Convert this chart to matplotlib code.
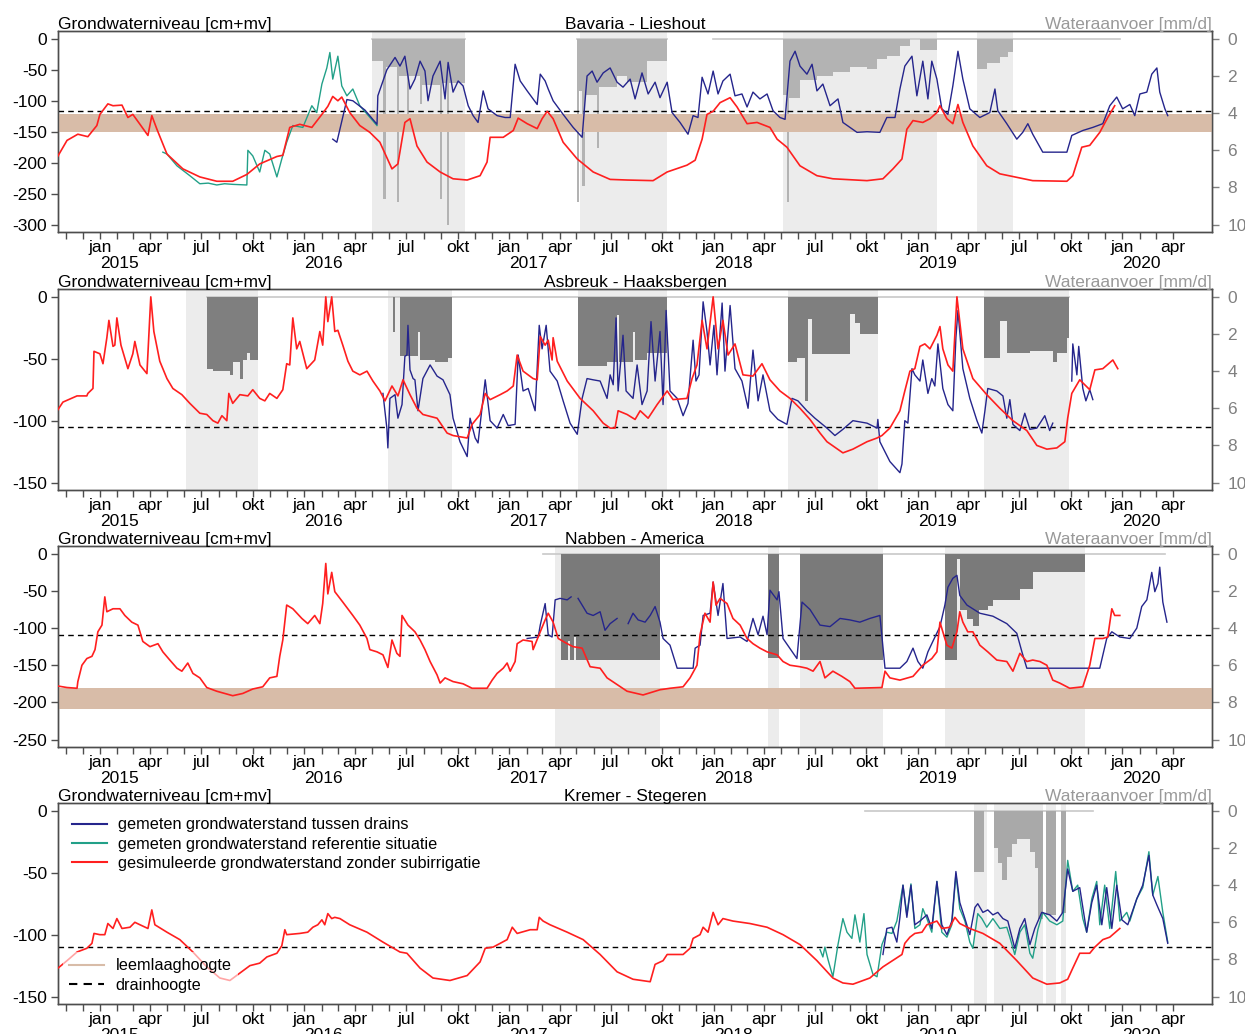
import numpy as np
import pandas as pd
import matplotlib
matplotlib.use('Agg')
import matplotlib.pyplot as plt
import matplotlib.dates as mdates
from matplotlib.lines import Line2D

plt.rcParams['font.family'] = ['Liberation Sans', 'DejaVu Sans']
plt.rcParams['font.size'] = 12.5

###########################################################
# data: time in decimal years, groundwater in cm+mv, supply in mm/d

titles = ['Bavaria - Lieshout', 'Asbreuk - Haaksbergen', 'Nabben - America', 'Kremer - Stegeren']
yticks_left = [[0, -50, -100, -150, -200, -250, -300],
               [0, -50, -100, -150],
               [0, -50, -100, -150, -200, -250],
               [0, -50, -100, -150]]
drain_level = [-116, -105, -109, -110]
loam_band = [(-122, -150), None, (-180, -209), None]

# ---- Bavaria - Lieshout
bav_red = [(2014.795, -189), (2014.839, -164), (2014.892, -154), (2014.941, -158), (2014.985, -140),
           (2015.000, -122), (2015.039, -105), (2015.064, -108), (2015.108, -107), (2015.137, -127),
           (2015.161, -122), (2015.196, -138), (2015.235, -156), (2015.254, -124), (2015.279, -146),
           (2015.328, -186), (2015.406, -210), (2015.489, -223), (2015.572, -230), (2015.650, -230),
           (2015.719, -219), (2015.782, -202), (2015.866, -190), (2015.895, -188), (2015.929, -143),
           (2015.978, -138), (2016.037, -143), (2016.086, -122), (2016.115, -109), (2016.139, -93),
           (2016.164, -100), (2016.183, -94), (2016.222, -119), (2016.271, -140), (2016.320, -151),
           (2016.369, -167), (2016.428, -210), (2016.457, -202), (2016.491, -135), (2016.516, -129),
           (2016.550, -173), (2016.599, -199), (2016.663, -215), (2016.726, -226), (2016.795, -228),
           (2016.858, -221), (2016.892, -199), (2016.907, -159), (2016.971, -159), (2017.020, -148),
           (2017.044, -128), (2017.088, -137), (2017.137, -145), (2017.161, -129), (2017.186, -117),
           (2017.215, -129), (2017.264, -167), (2017.333, -194), (2017.411, -215), (2017.494, -227),
           (2017.577, -228), (2017.704, -229), (2017.773, -215), (2017.870, -204), (2017.910, -196),
           (2017.944, -162), (2017.968, -122), (2017.998, -117), (2018.032, -103), (2018.081, -95),
           (2018.115, -110), (2018.164, -137), (2018.213, -135), (2018.276, -143), (2018.311, -162),
           (2018.359, -175), (2018.423, -205), (2018.506, -221), (2018.584, -226), (2018.751, -229),
           (2018.829, -226), (2018.878, -210), (2018.922, -194), (2018.946, -146), (2018.976, -132),
           (2019.024, -135), (2019.059, -129), (2019.093, -119), (2019.108, -108), (2019.142, -129),
           (2019.171, -137), (2019.196, -106), (2019.220, -135), (2019.269, -173), (2019.337, -205),
           (2019.401, -218), (2019.562, -229), (2019.729, -230), (2019.758, -221), (2019.802, -175),
           (2019.841, -172), (2019.890, -151), (2019.929, -127), (2019.963, -108)]
bav_navy = [(2016.139, -162), (2016.159, -167), (2016.208, -98), (2016.237, -100), (2016.296, -115),
            (2016.355, -138), (2016.359, -92), (2016.403, -50), (2016.443, -30), (2016.467, -44),
            (2016.491, -28), (2016.516, -81), (2016.540, -65), (2016.565, -36), (2016.589, -52),
            (2016.604, -100), (2016.628, -60), (2016.663, -36), (2016.687, -97), (2016.702, -38),
            (2016.726, -86), (2016.751, -68), (2016.775, -76), (2016.800, -108), (2016.824, -124),
            (2016.848, -135), (2016.873, -84), (2016.897, -113), (2016.941, -124), (2016.980, -127),
            (2017.005, -127), (2017.029, -41), (2017.054, -68), (2017.088, -84), (2017.137, -106),
            (2017.152, -57), (2017.176, -68), (2017.191, -81), (2017.215, -100), (2017.264, -122),
            (2017.313, -143), (2017.357, -159), (2017.381, -60), (2017.406, -52), (2017.430, -70),
            (2017.460, -55), (2017.494, -47), (2017.528, -70), (2017.557, -78), (2017.592, -65),
            (2017.616, -97), (2017.650, -55), (2017.680, -89), (2017.714, -70), (2017.738, -95),
            (2017.773, -70), (2017.797, -119), (2017.836, -135), (2017.875, -154), (2017.900, -124),
            (2017.924, -127), (2017.944, -62), (2017.973, -89), (2017.998, -52), (2018.022, -89),
            (2018.046, -68), (2018.081, -57), (2018.105, -92), (2018.139, -89), (2018.164, -110),
            (2018.193, -86), (2018.227, -97), (2018.262, -89), (2018.291, -116), (2018.325, -127),
            (2018.350, -130), (2018.374, -36), (2018.399, -20), (2018.423, -44), (2018.457, -57),
            (2018.482, -41), (2018.506, -84), (2018.535, -73), (2018.570, -108), (2018.609, -97),
            (2018.633, -135), (2018.702, -151), (2018.751, -150), (2018.814, -151), (2018.848, -127),
            (2018.888, -127), (2018.912, -81), (2018.936, -44), (2018.971, -28), (2018.995, -92),
            (2019.024, -36), (2019.049, -97), (2019.068, -36), (2019.093, -65), (2019.117, -113),
            (2019.147, -122), (2019.171, -76), (2019.196, -20), (2019.220, -65), (2019.254, -113),
            (2019.303, -127), (2019.352, -119), (2019.377, -81), (2019.391, -116), (2019.435, -137),
            (2019.484, -162), (2019.513, -151), (2019.538, -137), (2019.562, -154), (2019.611, -183),
            (2019.729, -183), (2019.753, -156), (2019.807, -148), (2019.856, -143), (2019.905, -137),
            (2019.939, -108), (2019.973, -94), (2020.002, -113), (2020.037, -106), (2020.061, -124),
            (2020.086, -89), (2020.120, -86), (2020.144, -57), (2020.169, -47), (2020.183, -86),
            (2020.208, -113), (2020.222, -124)]
bav_teal = [(2015.308, -183), (2015.328, -186), (2015.377, -205), (2015.440, -221), (2015.489, -234),
            (2015.530, -233), (2015.572, -236), (2015.610, -234), (2015.650, -235), (2015.719, -236),
            (2015.724, -180), (2015.748, -189), (2015.782, -215), (2015.807, -180), (2015.831, -186),
            (2015.866, -223), (2015.890, -194), (2015.914, -167), (2015.944, -140), (2015.993, -143),
            (2016.037, -108), (2016.061, -119), (2016.086, -73), (2016.110, -47), (2016.125, -22),
            (2016.139, -65), (2016.164, -28), (2016.183, -76), (2016.208, -92), (2016.237, -81),
            (2016.271, -108), (2016.355, -140)]
bav_irrig = [(2016.330, 2016.785), (2017.347, 2017.773), (2018.340, 2019.093), (2019.289, 2019.465)]
bav_supply = [(2016.330, 1.2), (2016.384, 8.6), (2016.398, 1.5), (2016.452, 8.8), (2016.462, 2.0),
              (2016.501, 4.5), (2016.511, 2.0), (2016.565, 3.5), (2016.575, 2.5), (2016.663, 8.6),
              (2016.672, 2.4), (2016.697, 10.0), (2016.706, 2.4), (2016.785, np.nan),
              (2017.333, 8.8), (2017.343, 2.8), (2017.357, 7.9), (2017.371, 3.0), (2017.430, 5.9),
              (2017.440, 2.6), (2017.528, 2.0), (2017.577, 2.3), (2017.675, 1.2), (2017.773, np.nan),
              (2017.998, 0.0), (2018.340, 3.0), (2018.359, 8.8), (2018.369, 3.2), (2018.423, 2.2),
              (2018.506, 2.0), (2018.584, 1.8), (2018.667, 1.5), (2018.751, 1.6), (2018.800, 1.1),
              (2018.848, 0.9), (2018.912, 0.4), (2018.961, 0.0), (2019.010, 0.6), (2019.093, 0.0),
              (2019.289, 1.6), (2019.337, 1.3), (2019.401, 1.0), (2019.440, 0.7), (2019.465, 0.0),
              (2019.988, np.nan)]

# ---- Asbreuk - Haaksbergen
asb_red = [(2014.795, -91), (2014.819, -85), (2014.888, -80), (2014.936, -80), (2014.941, -78),
           (2014.966, -74), (2014.971, -44), (2015.000, -46), (2015.015, -54), (2015.034, -33),
           (2015.044, -19), (2015.064, -40), (2015.073, -39), (2015.083, -17), (2015.103, -39),
           (2015.137, -58), (2015.161, -46), (2015.171, -36), (2015.196, -55), (2015.230, -62),
           (2015.249, 0), (2015.264, -28), (2015.293, -52), (2015.328, -66), (2015.357, -74),
           (2015.401, -79), (2015.440, -86), (2015.489, -94), (2015.523, -95), (2015.553, -100),
           (2015.577, -102), (2015.597, -96), (2015.621, -100), (2015.631, -78), (2015.650, -86),
           (2015.685, -79), (2015.724, -80), (2015.748, -75), (2015.782, -82), (2015.807, -84),
           (2015.831, -78), (2015.866, -82), (2015.895, -75), (2015.914, -54), (2015.929, -55),
           (2015.944, -17), (2015.963, -42), (2015.978, -36), (2016.012, -58), (2016.051, -51),
           (2016.076, -28), (2016.090, -39), (2016.105, 0), (2016.115, -20), (2016.134, 0),
           (2016.149, -28), (2016.164, -27), (2016.188, -39), (2016.213, -52), (2016.237, -60),
           (2016.271, -63), (2016.306, -60), (2016.335, -68), (2016.369, -76), (2016.394, -84),
           (2016.428, -72), (2016.457, -80), (2016.482, -67), (2016.516, -79), (2016.550, -90),
           (2016.579, -95), (2016.648, -98), (2016.697, -110), (2016.726, -112), (2016.795, -114),
           (2016.819, -103), (2016.858, -95), (2016.883, -78), (2016.907, -83), (2016.956, -79),
           (2016.990, -76), (2017.020, -72), (2017.039, -47), (2017.068, -60), (2017.117, -66),
           (2017.137, -67), (2017.152, -32), (2017.176, -39), (2017.191, -35), (2017.210, -51),
           (2017.215, -33), (2017.235, -52), (2017.284, -68), (2017.347, -82), (2017.411, -92),
           (2017.460, -102), (2017.494, -106), (2017.518, -106), (2017.533, -92), (2017.577, -95),
           (2017.616, -99), (2017.641, -92), (2017.680, -98), (2017.724, -87), (2017.773, -76),
           (2017.802, -83), (2017.870, -82), (2017.895, -66), (2017.919, -55), (2017.944, -19),
           (2017.968, -42), (2017.998, 0), (2018.022, -42), (2018.046, -19), (2018.071, -47),
           (2018.105, -38), (2018.144, -63), (2018.193, -64), (2018.237, -54), (2018.276, -67),
           (2018.325, -76), (2018.374, -82), (2018.423, -90), (2018.472, -99), (2018.521, -110),
           (2018.555, -117), (2018.633, -126), (2018.682, -123), (2018.751, -117), (2018.800, -114),
           (2018.824, -112), (2018.863, -106), (2018.912, -92), (2018.936, -76), (2018.961, -60),
           (2018.985, -58), (2019.010, -40), (2019.034, -38), (2019.059, -42), (2019.093, -31),
           (2019.108, -24), (2019.122, -42), (2019.147, -55), (2019.171, -60), (2019.191, 0),
           (2019.220, -42), (2019.269, -66), (2019.337, -79), (2019.401, -90), (2019.465, -100),
           (2019.533, -108), (2019.582, -120), (2019.631, -123), (2019.680, -122), (2019.719, -117),
           (2019.733, -98), (2019.753, -78), (2019.792, -67), (2019.841, -75), (2019.866, -59),
           (2019.905, -58), (2019.954, -51), (2019.978, -58)]
asb_navy = [(2016.384, -78), (2016.403, -106), (2016.408, -122), (2016.418, -82), (2016.443, -79),
            (2016.457, -98), (2016.477, -87), (2016.491, -48), (2016.501, -47), (2016.506, -23),
            (2016.516, -59), (2016.531, -66), (2016.540, -67), (2016.555, -92), (2016.579, -66),
            (2016.614, -55), (2016.648, -64), (2016.677, -67), (2016.711, -79), (2016.726, -98),
            (2016.760, -117), (2016.795, -129), (2016.809, -98), (2016.834, -114), (2016.848, -118),
            (2016.883, -67), (2016.907, -100), (2016.941, -106), (2016.971, -95), (2016.995, -104),
            (2017.029, -103), (2017.044, -47), (2017.068, -76), (2017.093, -74), (2017.127, -92),
            (2017.147, -23), (2017.161, -42), (2017.181, -23), (2017.200, -60), (2017.235, -68),
            (2017.264, -84), (2017.298, -102), (2017.333, -111), (2017.357, -82), (2017.381, -66),
            (2017.411, -67), (2017.445, -68), (2017.479, -82), (2017.494, -63), (2017.509, -71),
            (2017.523, -17), (2017.533, -76), (2017.557, -31), (2017.572, -76), (2017.606, -82),
            (2017.626, -55), (2017.650, -87), (2017.675, -76), (2017.694, -20), (2017.714, -68),
            (2017.738, -28), (2017.753, -87), (2017.768, -11), (2017.787, -76), (2017.822, -82),
            (2017.851, -96), (2017.875, -86), (2017.900, -35), (2017.914, -68), (2017.929, -63),
            (2017.949, -4), (2017.968, -28), (2017.983, -55), (2018.002, -23), (2018.017, -63),
            (2018.042, -5), (2018.056, -60), (2018.081, -7), (2018.105, -58), (2018.139, -68),
            (2018.169, -90), (2018.193, -43), (2018.218, -84), (2018.242, -63), (2018.276, -92),
            (2018.315, -99), (2018.359, -103), (2018.384, -82), (2018.413, -84), (2018.457, -92),
            (2018.496, -98), (2018.555, -106), (2018.594, -112), (2018.633, -107), (2018.682, -100),
            (2018.751, -102), (2018.800, -106), (2018.804, -99), (2018.814, -117), (2018.863, -133),
            (2018.912, -142), (2018.922, -135), (2018.936, -100), (2018.951, -102), (2018.971, -58),
            (2018.985, -63), (2019.010, -68), (2019.024, -51), (2019.049, -78), (2019.068, -66),
            (2019.083, -72), (2019.098, -38), (2019.122, -74), (2019.147, -87), (2019.171, -92),
            (2019.186, -33), (2019.196, -11), (2019.220, -58), (2019.254, -82), (2019.289, -100),
            (2019.313, -110), (2019.328, -92), (2019.342, -74), (2019.386, -76), (2019.416, -80),
            (2019.435, -98), (2019.450, -83), (2019.465, -103), (2019.499, -108), (2019.523, -94),
            (2019.548, -107), (2019.582, -106), (2019.621, -96), (2019.645, -108), (2019.660, -102),
            (2019.700, np.nan),
            (2019.753, -68), (2019.758, -38), (2019.778, -63), (2019.787, -40), (2019.807, -74),
            (2019.822, -84), (2019.841, -75), (2019.856, -83)]
asb_teal = []
asb_irrig = [(2015.420, 2015.773), (2016.408, 2016.721), (2017.337, 2017.773), (2018.364, 2018.804),
             (2019.323, 2019.738)]
asb_supply = [(2015.523, 3.9), (2015.553, 4.0), (2015.636, 4.2), (2015.650, 3.5), (2015.685, 4.4),
              (2015.699, 3.4), (2015.719, 3.0), (2015.734, 3.4), (2015.773, 0.0),
              (2016.433, 1.9), (2016.443, 0.0), (2016.467, 3.2), (2016.555, 1.9), (2016.565, 3.4),
              (2016.640, 3.5), (2016.700, 3.3), (2016.721, 0.0),
              (2017.337, 3.7), (2017.479, 3.5), (2017.528, 1.0), (2017.537, 3.5), (2017.606, 1.9),
              (2017.616, 3.4), (2017.675, 3.0), (2017.773, 0.0),
              (2018.364, 3.5), (2018.408, 3.3), (2018.447, 5.6), (2018.462, 1.2), (2018.482, 3.1),
              (2018.667, 0.9), (2018.692, 1.4), (2018.716, 2.0), (2018.804, 0.0),
              (2019.323, 3.3), (2019.401, 1.3), (2019.435, 3.0), (2019.548, 2.9), (2019.660, 3.5),
              (2019.680, 3.0), (2019.729, 2.2), (2019.738, np.nan)]

# ---- Nabben - America
nab_red = [(2014.795, -178), (2014.839, -180), (2014.888, -181), (2014.892, -172), (2014.912, -150),
           (2014.936, -141), (2014.961, -138), (2014.976, -129), (2014.990, -105), (2015.010, -96),
           (2015.024, -58), (2015.034, -78), (2015.064, -74), (2015.098, -74), (2015.122, -83),
           (2015.156, -92), (2015.186, -96), (2015.210, -118), (2015.245, -125), (2015.284, -121),
           (2015.308, -132), (2015.342, -143), (2015.377, -154), (2015.401, -158), (2015.430, -147),
           (2015.455, -161), (2015.489, -167), (2015.523, -180), (2015.572, -185), (2015.650, -191),
           (2015.699, -188), (2015.748, -182), (2015.797, -179), (2015.831, -167), (2015.866, -165),
           (2015.880, -138), (2015.895, -116), (2015.914, -69), (2015.944, -74), (2015.988, -87),
           (2016.017, -94), (2016.051, -83), (2016.076, -94), (2016.090, -67), (2016.105, -13),
           (2016.115, -54), (2016.134, -25), (2016.149, -51), (2016.188, -65), (2016.237, -83),
           (2016.271, -96), (2016.306, -114), (2016.320, -129), (2016.355, -132), (2016.384, -136),
           (2016.408, -153), (2016.428, -116), (2016.452, -134), (2016.467, -138), (2016.477, -83),
           (2016.506, -96), (2016.540, -105), (2016.565, -116), (2016.589, -129), (2016.614, -145),
           (2016.648, -163), (2016.663, -174), (2016.687, -167), (2016.726, -172), (2016.775, -175),
           (2016.819, -181), (2016.892, -181), (2016.917, -170), (2016.941, -161), (2016.971, -154),
           (2016.990, -147), (2017.005, -158), (2017.029, -145), (2017.039, -121), (2017.068, -116),
           (2017.112, -118), (2017.117, -129), (2017.152, -105), (2017.176, -89), (2017.191, -80),
           (2017.215, -92), (2017.240, -114), (2017.284, -121), (2017.313, -125), (2017.357, -127),
           (2017.396, -152), (2017.445, -154), (2017.479, -167), (2017.528, -176), (2017.577, -185),
           (2017.655, -190), (2017.738, -183), (2017.787, -181), (2017.851, -179), (2017.885, -167),
           (2017.919, -150), (2017.934, -109), (2017.958, -80), (2017.983, -92), (2017.998, -38),
           (2018.012, -69), (2018.032, -60), (2018.066, -67), (2018.095, -87), (2018.130, -96),
           (2018.164, -114), (2018.193, -121), (2018.227, -127), (2018.262, -132), (2018.311, -136),
           (2018.340, -145), (2018.374, -150), (2018.423, -152), (2018.457, -154), (2018.487, -158),
           (2018.521, -145), (2018.545, -167), (2018.584, -158), (2018.628, -165), (2018.667, -172),
           (2018.692, -181), (2018.824, -180), (2018.839, -158), (2018.863, -167), (2018.912, -170),
           (2018.976, -165), (2019.024, -150), (2019.068, -141), (2019.093, -132), (2019.108, -92),
           (2019.122, -105), (2019.142, -123), (2019.166, -127), (2019.191, -105), (2019.205, -78),
           (2019.220, -92), (2019.244, -105), (2019.269, -105), (2019.303, -123), (2019.342, -132),
           (2019.386, -143), (2019.435, -145), (2019.465, -158), (2019.499, -134), (2019.533, -145),
           (2019.562, -143), (2019.597, -145), (2019.631, -150), (2019.660, -170), (2019.694, -174),
           (2019.743, -181), (2019.807, -179), (2019.841, -150), (2019.866, -114), (2019.905, -114),
           (2019.929, -112), (2019.949, -74), (2019.963, -83), (2019.988, -83)]
nab_navy = [(2017.088, -114), (2017.142, -112), (2017.152, -96), (2017.176, -67), (2017.191, -109),
            (2017.210, -112), (2017.225, -62), (2017.249, -60), (2017.284, -62), (2017.303, -58),
            (2017.320, np.nan),
            (2017.337, -60), (2017.381, -80), (2017.411, -83), (2017.445, -78), (2017.469, -103),
            (2017.494, -94), (2017.528, -87), (2017.555, np.nan),
            (2017.582, -94), (2017.606, -80), (2017.631, -89), (2017.665, -92), (2017.690, -83),
            (2017.714, -71), (2017.738, -92), (2017.753, -114), (2017.787, -123), (2017.822, -154),
            (2017.900, -154), (2017.910, -127), (2017.934, -123), (2017.949, -83), (2017.983, -80),
            (2017.998, -38), (2018.022, -83), (2018.046, -40), (2018.066, -114), (2018.130, -112),
            (2018.164, -118), (2018.193, -87), (2018.218, -109), (2018.242, -84), (2018.262, -109),
            (2018.276, -49), (2018.311, -62), (2018.320, -51), (2018.340, -114), (2018.408, -141),
            (2018.433, -65), (2018.472, -75), (2018.521, -96), (2018.570, -98), (2018.619, -87),
            (2018.667, -89), (2018.716, -92), (2018.765, -87), (2018.814, -83), (2018.839, -154),
            (2018.912, -154), (2018.946, -145), (2018.976, -127), (2019.000, -145), (2019.024, -154),
            (2019.049, -132), (2019.073, -118), (2019.108, -98), (2019.132, -69), (2019.147, -45),
            (2019.171, -33), (2019.191, -29), (2019.205, -56), (2019.240, -69), (2019.303, -80),
            (2019.367, -84), (2019.435, -94), (2019.484, -107), (2019.509, -132), (2019.533, -154),
            (2019.890, -154), (2019.924, -114), (2019.949, -105), (2019.988, -112), (2020.037, -114),
            (2020.071, -100), (2020.095, -71), (2020.120, -62), (2020.144, -25), (2020.159, -51),
            (2020.174, -40), (2020.183, -18), (2020.198, -65), (2020.218, -92)]
nab_teal = []
nab_irrig = [(2017.225, 2017.738), (2018.267, 2018.320), (2018.423, 2018.829), (2019.132, 2019.817)]
nab_supply = [(2017.166, 0.0), (2017.254, 5.7), (2017.289, 4.7), (2017.298, 5.7), (2017.318, 4.5),
              (2017.328, 5.7), (2017.738, 0.0), (2018.267, 5.6), (2018.320, 0.0), (2018.423, 5.7),
              (2018.829, 0.0), (2019.132, 5.7), (2019.191, 0.3), (2019.205, 3.0), (2019.240, 3.5),
              (2019.269, 3.9), (2019.298, 3.0), (2019.342, 2.8), (2019.367, 2.5), (2019.499, 1.9),
              (2019.562, 1.0), (2019.817, 0.0), (2020.208, np.nan)]

# ---- Kremer - Stegeren
kre_red = [(2014.795, -127), (2014.839, -121), (2014.888, -114), (2014.936, -111), (2014.961, -107),
           (2014.971, -99), (2015.000, -100), (2015.024, -100), (2015.039, -91), (2015.064, -95),
           (2015.083, -87), (2015.108, -95), (2015.147, -94), (2015.171, -90), (2015.196, -92),
           (2015.235, -95), (2015.254, -80), (2015.269, -92), (2015.328, -98), (2015.391, -104),
           (2015.455, -114), (2015.523, -126), (2015.587, -135), (2015.636, -137), (2015.685, -131),
           (2015.734, -125), (2015.782, -123), (2015.817, -118), (2015.866, -115), (2015.890, -109),
           (2015.905, -96), (2015.914, -100), (2015.978, -99), (2016.017, -98), (2016.042, -94),
           (2016.066, -92), (2016.086, -88), (2016.100, -92), (2016.115, -83), (2016.134, -87),
           (2016.149, -86), (2016.174, -87), (2016.222, -92), (2016.306, -98), (2016.384, -106),
           (2016.467, -114), (2016.501, -115), (2016.565, -127), (2016.628, -135), (2016.711, -137),
           (2016.795, -133), (2016.858, -122), (2016.883, -111), (2016.922, -110), (2016.990, -104),
           (2017.015, -94), (2017.039, -99), (2017.103, -96), (2017.137, -96), (2017.147, -86),
           (2017.166, -89), (2017.200, -92), (2017.284, -98), (2017.362, -104), (2017.445, -116),
           (2017.528, -130), (2017.606, -136), (2017.690, -138), (2017.714, -124), (2017.753, -121),
           (2017.773, -116), (2017.851, -116), (2017.885, -111), (2017.900, -103), (2017.934, -100),
           (2017.949, -94), (2017.973, -98), (2017.998, -82), (2018.022, -92), (2018.046, -87),
           (2018.095, -89), (2018.178, -91), (2018.262, -94), (2018.340, -100), (2018.423, -108),
           (2018.506, -121), (2018.584, -135), (2018.633, -139), (2018.682, -140), (2018.765, -135),
           (2018.829, -126), (2018.922, -116), (2018.936, -107), (2018.961, -102), (2018.985, -99),
           (2019.020, -98), (2019.044, -92), (2019.093, -89), (2019.117, -95), (2019.156, -94),
           (2019.181, -86), (2019.205, -91), (2019.254, -95), (2019.318, -99), (2019.401, -107),
           (2019.484, -121), (2019.562, -135), (2019.631, -140), (2019.694, -139), (2019.733, -136),
           (2019.758, -127), (2019.792, -115), (2019.841, -115), (2019.866, -110), (2019.905, -104),
           (2019.939, -102), (2019.988, -95)]
kre_navy = [(2018.829, -116), (2018.848, -95), (2018.873, -94), (2018.897, -106), (2018.912, -86),
            (2018.927, -60), (2018.946, -86), (2018.966, -60), (2018.985, -92), (2019.010, -89),
            (2019.044, -84), (2019.068, -95), (2019.093, -57), (2019.117, -92), (2019.142, -100),
            (2019.166, -89), (2019.186, -49), (2019.205, -74), (2019.230, -87), (2019.254, -100),
            (2019.279, -78), (2019.293, -75), (2019.318, -82), (2019.342, -80), (2019.367, -84),
            (2019.391, -82), (2019.416, -87), (2019.440, -89), (2019.474, -111), (2019.499, -95),
            (2019.523, -87), (2019.548, -108), (2019.572, -95), (2019.606, -82), (2019.645, -84),
            (2019.680, -89), (2019.709, -82), (2019.733, -47), (2019.758, -65), (2019.792, -62),
            (2019.826, -98), (2019.851, -74), (2019.875, -60), (2019.900, -92), (2019.924, -62),
            (2019.949, -95), (2019.973, -60), (2019.998, -88), (2020.027, -92), (2020.071, -71),
            (2020.100, -60), (2020.130, -36), (2020.149, -68), (2020.169, -76), (2020.198, -87),
            (2020.222, -107)]
kre_teal = [(2018.521, -112), (2018.535, -118), (2018.545, -110), (2018.560, -120), (2018.584, -134),
            (2018.609, -108), (2018.633, -87), (2018.653, -98), (2018.677, -103), (2018.692, -84),
            (2018.716, -106), (2018.736, -83), (2018.751, -116), (2018.780, -132), (2018.800, -134),
            (2018.824, -108), (2018.848, -98), (2018.873, -99), (2018.897, -89), (2018.927, -60),
            (2018.946, -84), (2018.966, -59), (2018.985, -95), (2019.010, -92), (2019.024, -79),
            (2019.044, -87), (2019.068, -98), (2019.093, -57), (2019.117, -98), (2019.142, -102),
            (2019.166, -92), (2019.186, -51), (2019.205, -79), (2019.230, -89), (2019.254, -106),
            (2019.269, -111), (2019.293, -83), (2019.313, -87), (2019.337, -94), (2019.367, -87),
            (2019.401, -95), (2019.435, -94), (2019.450, -102), (2019.474, -116), (2019.499, -98),
            (2019.523, -92), (2019.548, -115), (2019.562, -119), (2019.587, -96), (2019.611, -82),
            (2019.645, -89), (2019.680, -92), (2019.709, -89), (2019.733, -40), (2019.758, -65),
            (2019.782, -60), (2019.807, -87), (2019.826, -98), (2019.851, -71), (2019.875, -57),
            (2019.890, -92), (2019.914, -60), (2019.939, -95), (2019.968, -49), (2019.988, -89),
            (2020.022, -82), (2020.037, -89), (2020.071, -71), (2020.100, -62), (2020.130, -33),
            (2020.149, -68), (2020.174, -53), (2020.198, -82), (2020.222, -106)]
kre_irrig = [(2019.274, 2019.337), (2019.372, 2019.611), (2019.626, 2019.675), (2019.699, 2019.724)]
kre_supply = [(2018.741, 0.0), (2019.274, 3.3), (2019.323, 0.0), (2019.372, 2.0), (2019.391, 2.8),
              (2019.411, 3.7), (2019.435, 2.5), (2019.460, 1.8), (2019.484, 1.5), (2019.548, 2.2),
              (2019.572, 3.1), (2019.587, 5.8), (2019.611, 0.0), (2019.626, 5.6), (2019.675, 0.0),
              (2019.699, 5.5), (2019.724, 0.0), (2019.856, np.nan)]

red_series = [bav_red, asb_red, nab_red, kre_red]
navy_series = [bav_navy, asb_navy, nab_navy, kre_navy]
teal_series = [bav_teal, asb_teal, nab_teal, kre_teal]
irrig_periods = [bav_irrig, asb_irrig, nab_irrig, kre_irrig]
supply_series = [bav_supply, asb_supply, nab_supply, kre_supply]
supply_colors = ['#b3b3b3', '#7f7f7f', '#7a7a7a', '#a9a9a9']

###########################################################
# functions

def dec2num(d):
    y = int(np.floor(d))
    start = pd.Timestamp(year=y, month=1, day=1)
    end = pd.Timestamp(year=y + 1, month=1, day=1)
    return mdates.date2num(start + (end - start) * (d - y))

def unpack(series):
    if len(series) == 0:
        return np.array([]), np.array([])
    t, v = zip(*series)
    return np.array([dec2num(x) for x in t]), np.array(v, dtype=float)

###########################################################
# main program

col_red = '#ff1f1f'
col_navy = '#25258c'
col_teal = '#22a088'
col_band = '#d8bca8'
col_irrig = '#ececec'
col_frame = '#4d4d4d'

fig = plt.figure(figsize=(12.45, 10.34), dpi=100)

left, width, height = 0.0466, 0.9269, 0.194
bottoms = [0.7756, 0.5261, 0.2776, 0.0290]

month_ticks = pd.date_range('2014-11-01', '2020-04-01', freq='MS')
month_names = {1: 'jan', 4: 'apr', 7: 'jul', 10: 'okt'}
month_labels = [month_names.get(m.month, '') for m in month_ticks]
xmin, xmax = dec2num(2014.795), dec2num(2020.438)

for i in range(4):
    ax = fig.add_axes([left, bottoms[i], width, height])
    ax2 = ax.twinx()
    ax.set_zorder(ax2.get_zorder() + 1)
    ax.patch.set_visible(False)

    # irrigation periods and water supply on the right axis
    for (s, e) in irrig_periods[i]:
        ax2.axvspan(dec2num(s), dec2num(e), color=col_irrig, lw=0, zorder=0)
    ts, vs = unpack(supply_series[i])
    rec = np.where(np.isnan(vs), np.nan, 0.0)
    ax2.plot(ts, rec, drawstyle='steps-post', color='#c8c8c8', lw=1.2, zorder=1)
    ok = ~np.isnan(vs[:-1]) & (vs[:-1] > 0)
    ax2.bar(ts[:-1][ok], vs[:-1][ok], width=np.diff(ts)[ok], align='edge',
            color=supply_colors[i], lw=0, zorder=2)
    ax2.set_ylim(10.4, -0.4)
    ax2.set_yticks([0, 2, 4, 6, 8, 10])
    ax2.tick_params(axis='y', colors='#808080', labelcolor='#808080', length=5, width=1,
                    labelsize=12.5, pad=6)

    # loam layer and drain level
    if loam_band[i] is not None:
        ax.axhspan(loam_band[i][1], loam_band[i][0], color=col_band, lw=0, zorder=1)
    ax.axhline(drain_level[i], color='black', ls=(0, (4, 3)), lw=1.0, zorder=2)

    # groundwater lines
    for series, col, lw in [(teal_series[i], col_teal, 1.0),
                            (navy_series[i], col_navy, 1.0),
                            (red_series[i], col_red, 1.2)]:
        t, v = unpack(series)
        if len(t):
            ax.plot(t, v, color=col, lw=lw, zorder=3)

    yt = yticks_left[i]
    pad = 0.04 * (yt[0] - yt[-1])
    ax.set_ylim(yt[-1] - pad, yt[0] + pad)
    ax.set_yticks(yt)
    ax.set_yticklabels([str(v) for v in yt])
    ax.set_xlim(xmin, xmax)
    ax.set_xticks(mdates.date2num(month_ticks))
    ax.set_xticklabels(month_labels)
    ax.tick_params(axis='x', length=5, width=1, color=col_frame, labelsize=12.5, pad=1)
    ax.tick_params(axis='y', length=5, width=1, color=col_frame, labelsize=12.5, pad=3)
    for sp in list(ax.spines.values()) + list(ax2.spines.values()):
        sp.set_color(col_frame)
        sp.set_linewidth(1.0)

    for yr in range(2015, 2021):
        ax.annotate(str(yr), xy=(mdates.date2num(pd.Timestamp(yr, 2, 5)), 0),
                    xycoords=('data', 'axes fraction'), xytext=(0, -17),
                    textcoords='offset points', ha='center', va='top', fontsize=12.5)

    # titles
    ax.text(0.5, 0.997, titles[i], transform=ax.transAxes, ha='center', va='bottom', fontsize=12.5)
    ax.text(0.0, 0.997, 'Grondwaterniveau [cm+mv]', transform=ax.transAxes,
            ha='left', va='bottom', fontsize=12.5)
    ax.text(1.0, 0.997, 'Wateraanvoer [mm/d]', transform=ax.transAxes,
            ha='right', va='bottom', fontsize=12.5, color='#999999')

    if i == 3:
        h1 = [Line2D([], [], color=col_navy, lw=1.5),
              Line2D([], [], color=col_teal, lw=1.5),
              Line2D([], [], color=col_red, lw=1.5)]
        leg1 = ax.legend(h1, ['gemeten grondwaterstand tussen drains',
                              'gemeten grondwaterstand referentie situatie',
                              'gesimuleerde grondwaterstand zonder subirrigatie'],
                         loc='upper left', frameon=False, fontsize=11.7, handlelength=2.15,
                         labelspacing=0.27, borderaxespad=0.45, handletextpad=0.7)
        ax.add_artist(leg1)
        h2 = [Line2D([], [], color=col_band, lw=1.5),
              Line2D([], [], color='black', lw=1.5, ls=(0, (4, 3)))]
        leg2 = ax.legend(h2, ['leemlaaghoogte', 'drainhoogte'], loc='lower left',
                         frameon=True, framealpha=0.6, facecolor='white', edgecolor='none',
                         fontsize=11.7, handlelength=2.15, labelspacing=0.27,
                         borderaxespad=0.3, handletextpad=0.7, fancybox=False)

fig.savefig('out.png', dpi=100)
